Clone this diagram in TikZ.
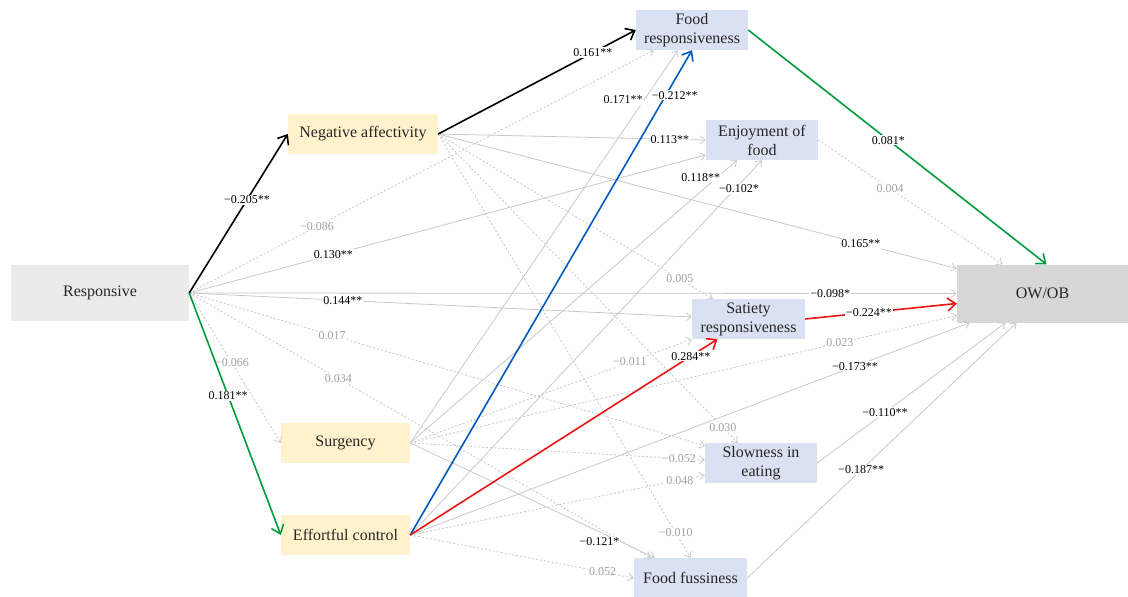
\documentclass[tikz,border=0pt]{standalone}
\usepackage{fontspec}
\setmainfont{Liberation Serif}
\usetikzlibrary{arrows.meta,calc}

\definecolor{respgray}{RGB}{235,235,235}
\definecolor{outgray}{RGB}{215,215,215}
\definecolor{tempyel}{RGB}{255,242,204}
\definecolor{eatblue}{RGB}{218,225,242}
\definecolor{pathgray}{RGB}{200,200,200}
\definecolor{nsgray}{RGB}{160,160,160}
\definecolor{pgreen}{RGB}{0,155,60}
\definecolor{pblue}{RGB}{0,90,190}
\definecolor{pred}{RGB}{235,20,20}

\newcommand\boxfont{\fontsize{16}{19}\selectfont}
\newcommand\coeffont{\fontsize{12}{13}\selectfont}

\tikzset{
  varbox/.style={inner sep=0pt, align=center, font=\boxfont, text=black!85, minimum height=40pt},
  expo/.style={varbox, fill=respgray},
  outc/.style={varbox, fill=outgray},
  temper/.style={varbox, fill=tempyel},
  eating/.style={varbox, fill=eatblue},
  spath/.style={draw=pathgray, line width=0.8pt, -{Straight Barb[length=5pt,width=8pt]}},
  nspath/.style={spath, dash pattern=on 2pt off 2pt},
  heavy/.style={line width=1.6pt, -{Straight Barb[length=8pt,width=13pt]}},
  blackpath/.style={heavy, draw=black},
  greenpath/.style={heavy, draw=pgreen},
  bluepath/.style={heavy, draw=pblue},
  redpath/.style={heavy, draw=pred},
  sig/.style={fill=white, inner sep=1pt, font=\coeffont, text=black},
  ns/.style={sig, text=nsgray},
}

\begin{document}
\begin{tikzpicture}[x=1pt,y=-1pt]
\useasboundingbox (0,0) rectangle (1128,597);

% variables
\node[expo, minimum width=178pt, minimum height=56pt] (resp) at (100,293) {Responsive};
\node[outc, minimum width=171pt, minimum height=58pt] (owob) at (1042.5,293.5) {OW/OB};
\node[temper, minimum width=150pt] (na) at (363,134) {Negative affectivity};
\node[temper, minimum width=129pt] (surg) at (345.5,443) {Surgency};
\node[temper, minimum width=129pt] (ec) at (345.5,535) {Effortful control};
\node[eating, minimum width=112pt] (fr) at (692,30) {Food\\responsiveness};
\node[eating, minimum width=112pt] (eof) at (762,140) {Enjoyment of\\food};
\node[eating, minimum width=113pt] (sr) at (748.5,319) {Satiety\\responsiveness};
\node[eating, minimum width=112pt] (sie) at (761,463) {Slowness in\\eating};
\node[eating, minimum width=113pt] (ff) at (690.5,578) {Food fussiness};

% paths from Responsive
\draw[nspath] (resp.east) -- node[ns,pos=0.467]{−0.066} (surg.west);
\draw[nspath] (resp.east) -- node[ns,pos=0.275]{−0.086} ($(fr.south west)+(18,0)$);
\draw[spath] (resp.east) -- node[sig,pos=0.279]{0.130**} ($(eof.west)+(0,15)$);
\draw[spath] (resp.east) -- node[sig,pos=0.835]{−0.098*} (owob.west);
\draw[spath] (resp.east) -- node[sig,pos=0.306]{0.144**} ($(sr.west)+(0,-2)$);
\draw[nspath] (resp.east) -- node[ns,pos=0.277]{0.017} ($(sie.north west)+(0,3)$);
\draw[nspath] (resp.east) -- node[ns,pos=0.323]{0.034} ($(ff.north west)+(17,0)$);

% paths from Negative affectivity
\draw[spath] (na.east) -- node[sig,pos=0.866]{0.113**} (eof.west);
\draw[spath] (na.east) -- node[sig,pos=0.815]{0.165**} ($(owob.west)+(0,-25)$);
\draw[nspath] (na.east) -- node[ns,pos=0.88]{0.005} ($(sr.north west)+(21,0)$);
\draw[nspath] (na.east) -- node[ns,pos=0.95]{0.030} ($(sie.north west)+(33,0)$);
\draw[nspath] (na.east) -- node[ns,pos=0.941]{−0.010} (ff.north);

% paths from Surgency
\draw[spath] (surg.east) -- node[sig,pos=0.873,anchor=east]{0.171**} ($(fr.south)+(-14,0)$);
\draw[spath] (surg.east) -- node[sig,pos=0.94,anchor=east,xshift=4pt]{0.118**} ($(eof.south)+(-25,0)$);
\draw[nspath] (surg.east) -- node[ns,pos=0.78]{−0.011} (sr.south west);
\draw[nspath] (surg.east) -- node[ns,pos=0.786]{0.023} ($(owob.west)+(0,22)$);
\draw[nspath] (surg.east) -- node[ns,pos=0.912]{−0.052} ($(sie.west)+(0,-3)$);
\draw[spath] (surg.east) -- node[sig,pos=0.774,yshift=-10pt]{−0.121*} ($(ff.north west)+(21,0)$);

% paths from Effortful control
\draw[spath] (ec.east) -- node[sig,pos=0.923,xshift=4pt]{−0.102*} (eof.south);
\draw[spath] (ec.east) -- node[sig,pos=0.795]{−0.173**} ($(owob.south west)+(13,0)$);
\draw[nspath] (ec.east) -- node[ns,pos=0.915]{0.048} ($(sie.west)+(0,12)$);
\draw[nspath] (ec.east) -- node[ns,pos=0.86]{0.052} (ff.west);

% eating behaviours to OW/OB
\draw[nspath] (eof.east) -- node[ns,pos=0.39]{0.004} ($(owob.north)+(-40,0)$);
\draw[spath] (sie.east) -- node[sig,pos=0.36]{−0.110**} ($(owob.south)+(-37,0)$);
\draw[spath] (ff.east) -- node[sig,pos=0.423]{−0.187**} ($(owob.south)+(-26,0)$);

% highlighted paths
\draw[blackpath] (resp.east) -- node[sig,pos=0.585]{−0.205**} (na.west);
\draw[greenpath] (resp.east) -- node[sig,pos=0.426]{0.181**} (ec.west);
\draw[blackpath] (na.east) -- node[sig,pos=0.783]{0.161**} (fr.west);
\draw[bluepath] (ec.east) -- node[sig,pos=0.907,xshift=9pt]{−0.212**} (fr.south);
\draw[redpath] (ec.east) -- node[sig,pos=0.913]{0.284**} ($(sr.south)+(-31,0)$);
\draw[greenpath] (fr.east) -- node[sig,pos=0.47]{0.081*} ($(owob.north)+(4,0)$);
\draw[redpath] (sr.east) -- node[sig,pos=0.42]{−0.224**} ($(owob.west)+(0,10)$);
\end{tikzpicture}
\end{document}
